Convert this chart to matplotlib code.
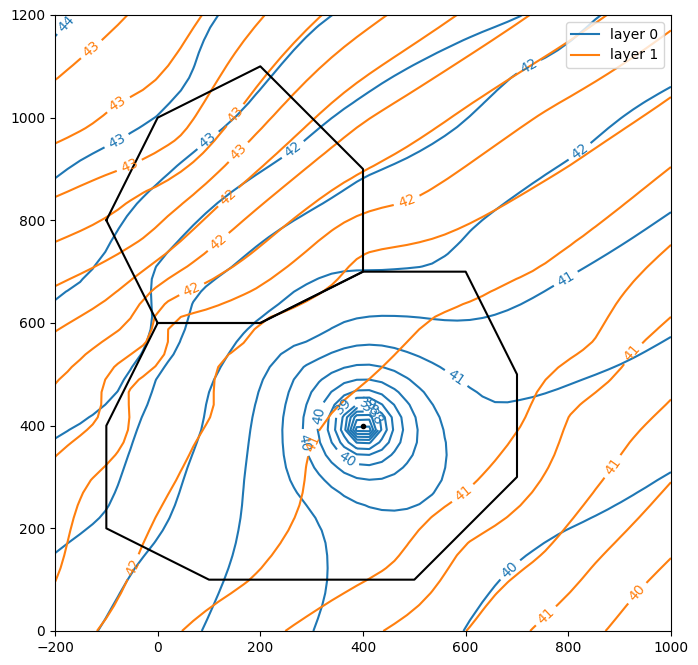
import numpy as np
import matplotlib.pyplot as plt
from matplotlib.lines import Line2D

############################################################
##   head contours (x, y per line)   ##
############################################################

# layer 0 (blue), contour step 0.4
layer0_levels = [43.6, 43.2, 42.8, 42.4, 42.0, 41.6, 41.2, 40.8, 40.4,
                 40.4, 40.4, 40.0, 40.0, 43.85, 41.85, 40.15, 41.75]
layer0_x = [[-200, -182, -165],
            [-200, -79, -5, 59, 118],
            [-200, -99, -34, 44, 98, 190, 340],
            [-200, -79, -30, -10, -9, 28, 112, 264, 394, 564, 712],
            [-200, -103, -34, 0, 47, 67, 137, 250, 398, 589, 710, 862],
            [-116, -40, 24, 55, 88, 135, 203, 270, 340, 430, 531, 614, 823, 1000],
            [86, 157, 168, 180, 219, 303, 394, 500, 642, 784, 1000],
            [303, 330, 303, 258, 244, 252, 283, 336, 400, 480, 550, 614, 653, 700, 809, 907, 1000],
            [595, 661, 706, 784, 1000],
            [283], [554], [312], [505],
            [-200], [1000], [1000], [-200]]
layer0_y = [[1161, 1180, 1200],
            [882, 953, 999, 1070, 1200],
            [649, 742, 840, 912, 956, 1044, 1200],
            [376, 464, 540, 600, 700, 746, 830, 937, 1038, 1136, 1200],
            [152, 230, 411, 500, 573, 639, 703, 790, 882, 986, 1095, 1200],
            [0, 130, 222, 310, 398, 534, 612, 665, 697, 702, 713, 785, 933, 1060],
            [0, 197, 290, 386, 515, 567, 610, 612, 612, 680, 816],
            [0, 138, 229, 294, 366, 450, 515, 541, 557, 545, 514, 470, 446, 450, 483, 522, 573],
            [0, 93, 138, 191, 310],
            [400], [400], [400], [400],
            [1200], [1200], [0], [0]]

# layer 1 (orange), contour step 0.2
layer1_levels = [43.4, 43.2, 43.0, 42.8, 42.6, 42.4, 42.2, 42.0, 41.8, 41.6,
                 41.4, 41.2, 41.0, 40.8, 40.6, 40.4, 43.5, 40.2, 41.7]
layer1_x = [[-200, -128, -58],
            [-200, -79, 86],
            [-200, -54, 44, 209],
            [-200, -40, 151, 320],
            [-200, -20, 157, 447],
            [-200, -30, 137, 583],
            [-200, -60, 118, 400, 725],
            [-200, -106, -5, 67, 300, 600, 875],
            [-200, -132, -60, 14, 190, 486, 750, 1000],
            [-118, -48, 14, 112, 176, 203, 345, 394, 589, 800, 1000],
            [47, 180, 291, 315, 400, 490, 550, 680, 790, 1000],
            [248, 400, 459, 589, 719, 848, 1000],
            [439, 600, 800, 924, 1000],
            [602, 750, 887, 1000],
            [725, 850, 1000],
            [873, 934, 1000],
            [-200], [1000], [-200]]
layer1_y = [[1072, 1132, 1200],
            [950, 1029, 1200],
            [845, 904, 962, 1200],
            [758, 850, 1005, 1200],
            [672, 770, 933, 1200],
            [583, 700, 846, 1200],
            [483, 600, 758, 990, 1200],
            [339, 430, 580, 664, 830, 1020, 1200],
            [94, 294, 470, 592, 665, 836, 1010, 1170],
            [0, 125, 255, 430, 567, 606, 678, 732, 785, 905, 1040],
            [0, 99, 339, 392, 480, 567, 619, 678, 742, 904],
            [0, 95, 132, 261, 417, 561, 752],
            [0, 170, 420, 542, 612],
            [0, 150, 320, 450],
            [0, 130, 290],
            [0, 74, 142],
            [1200], [0], [0]]

# where the contour labels sit
labels0_xy = [(-175, 1180), (-79, 953), (98, 956), (264, 937), (729, 1090),
              (823, 933), (794, 688), (583, 495), (681, 125), (283, 366),
              (312, 421), (365, 329), (359, 440), (410, 446), (414, 430),
              (425, 418)]
labels1_xy = [(-128, 1132), (-79, 1029), (-54, 904), (151, 1005), (157, 933),
              (137, 846), (118, 758), (67, 664), (486, 836), (-48, 125),
              (301, 366), (575, 294), (924, 542), (887, 320), (755, 31),
              (934, 74)]

# well in layer 0
well_x, well_y = 400, 400
well_a, well_r = 1.3, 100.0      # far drawdown
well_b, well_rb = 1.0, 40.0      # extra drawdown close to the screen

# inhomogeneity outlines
upper_x = [-100, 0, 200, 400, 400, 200, 0, -100]
upper_y = [800, 1000, 1100, 900, 700, 600, 600, 800]
lower_x = [0, 200, 400, 600, 700, 700, 500, 100, -100, -100, 0]
lower_y = [600, 600, 700, 700, 500, 300, 100, 100, 200, 400, 600]

levels0 = np.round(np.arange(36.4, 44.01, 0.4), 1)
levels1 = np.round(np.arange(39.8, 43.61, 0.2), 1)


def flatten(levels, xs, ys):
    px, py, pv = [], [], []
    for lev, lx, ly in zip(levels, xs, ys):
        px += lx
        py += ly
        pv += [lev] * len(lx)
    return np.array(px, float), np.array(py, float), np.array(pv, float)


def tps(px, py, pv, xg, yg, lam):
    # smoothing thin plate spline through the read points
    p = np.column_stack([px, py]) / 1000.0
    n = len(p)
    d = np.sqrt(((p[:, None, :] - p[None, :, :]) ** 2).sum(-1))
    k = d ** 2 * np.log(np.where(d > 0, d, 1.0)) + lam * np.eye(n)
    q = np.column_stack([np.ones(n), p])
    a = np.zeros((n + 3, n + 3))
    a[:n, :n] = k
    a[:n, n:] = q
    a[n:, :n] = q.T
    coef = np.linalg.solve(a, np.concatenate([pv, np.zeros(3)]))
    g = np.column_stack([xg.ravel(), yg.ravel()]) / 1000.0
    dg = np.sqrt(((g[:, None, :] - p[None, :, :]) ** 2).sum(-1))
    kg = dg ** 2 * np.log(np.where(dg > 0, dg, 1.0))
    out = kg @ coef[:n] + coef[n] + g @ coef[n + 1:]
    return out.reshape(xg.shape)


ngr = 50
xg, yg = np.meshgrid(np.linspace(-200, 1000, ngr), np.linspace(0, 1200, ngr))


def well_term(x, y):
    r2 = np.maximum((x - well_x) ** 2 + (y - well_y) ** 2, 1.0)
    return (well_a * 0.5 * np.log(r2 / well_r ** 2)
            + well_b * 0.5 * np.log(r2 / (r2 + well_rb ** 2)))


px0, py0, pv0 = flatten(layer0_levels, layer0_x, layer0_y)
h0 = tps(px0, py0, pv0 - well_term(px0, py0), xg, yg, 3e-4) + well_term(xg, yg)

px1, py1, pv1 = flatten(layer1_levels, layer1_x, layer1_y)
h1 = tps(px1, py1, pv1, xg, yg, 5e-4)

fig = plt.figure(figsize=(6.98, 6.65), dpi=100)
ax = fig.add_axes([55 / 698, 34 / 665, 616 / 698, 616 / 665])
ax.set_xlim(-200, 1000)
ax.set_ylim(0, 1200)
ax.set_aspect('equal')

cs0 = ax.contour(xg, yg, h0, levels=levels0, colors='C0')
ax.clabel(cs0, fmt='%1.0f', manual=labels0_xy)
cs1 = ax.contour(xg, yg, h1, levels=levels1, colors='C1')
ax.clabel(cs1, fmt='%1.0f', manual=labels1_xy)

ax.plot(upper_x, upper_y, 'k')
ax.plot(lower_x, lower_y, 'k')
ax.plot(well_x, well_y, 'k.')

ax.set_xlim(-200, 1000)
ax.set_ylim(0, 1200)
ax.legend([Line2D([], [], color='C0'), Line2D([], [], color='C1')],
          ['layer 0', 'layer 1'], loc='upper right')

plt.savefig('out.png', dpi=100)
